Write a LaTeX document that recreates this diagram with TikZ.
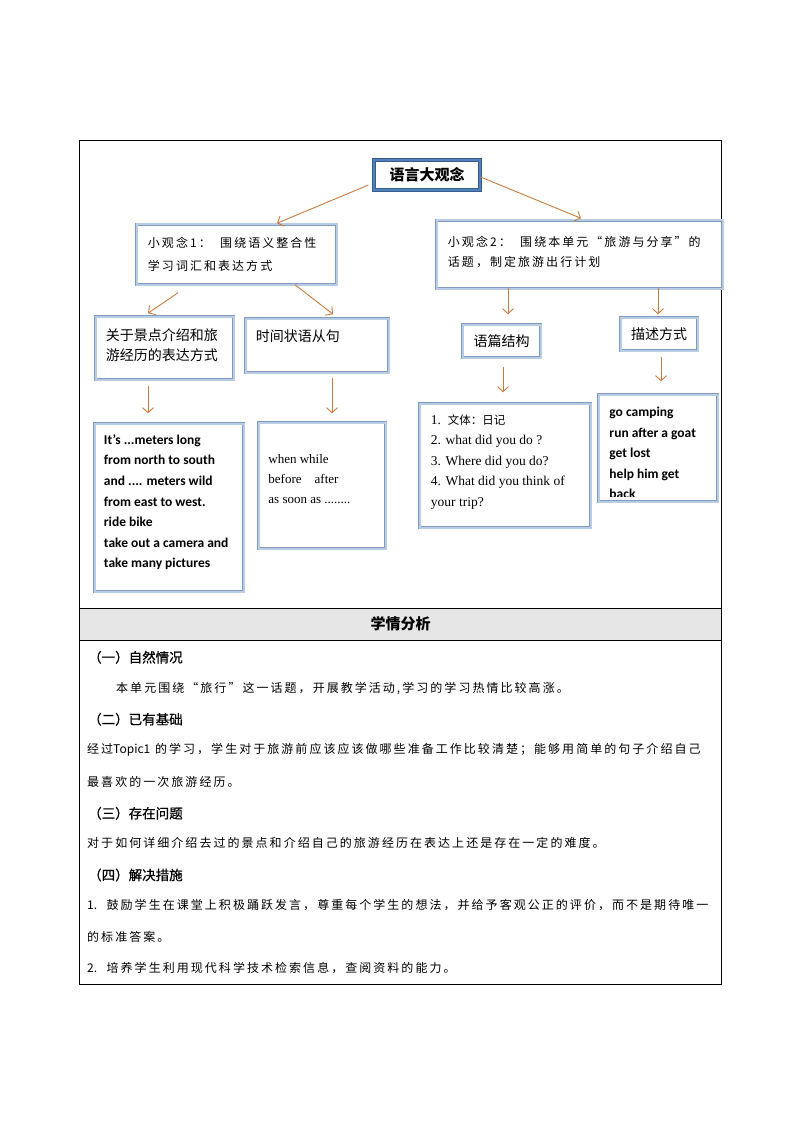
\documentclass[tikz,border=0pt]{standalone}
\usepackage{fontspec}
\usetikzlibrary{arrows.meta,positioning}
\newfontfamily\cjk{Noto Sans CJK SC}
\newfontfamily\cjkhead[FakeBold=0.8]{Noto Sans CJK SC}
\newfontfamily\cjkwide[LetterSpace=17]{Noto Sans CJK SC}
\newfontfamily\calfont{Carlito}
\newfontfamily\timesfont{Liberation Serif}
\definecolor{arrowbrown}{HTML}{C87A3F}
\definecolor{boxedge}{HTML}{7F9CC0}
\definecolor{boxband}{HTML}{B8CCE4}
\definecolor{rootedge}{HTML}{385D8A}
\definecolor{rootband}{HTML}{4F81BD}
\definecolor{rowgray}{HTML}{E6E6E6}
\tikzset{
idea/.style={draw=boxedge,line width=0.5pt,double=boxband,double distance=2pt,inner sep=0pt},
bigidea/.style={draw=rootedge,line width=0.7pt,double=rootband,double distance=2.2pt,inner sep=0pt},
arr/.style={draw=arrowbrown,line width=0.9pt,-{Straight Barb[length=5pt,width=11pt]}},
note/.style={inner sep=0pt,align=left},
cjknote/.style={note,font=\cjkwide\fontsize{12}{21}\selectfont},
heinote/.style={note,font=\cjk\fontsize{14}{20}\selectfont},
boldnote/.style={note,font=\calfont\bfseries\fontsize{13.5}{20.6}\selectfont},
romannote/.style={note,font=\timesfont\fontsize{13.5}{20.5}\selectfont},
heading/.style={inner sep=0pt,anchor=west,font=\cjkhead\fontsize{13.5}{16}\selectfont},
bodyline/.style={inner sep=0pt,anchor=west,font=\cjkwide\fontsize{12}{14}\selectfont},
}
\begin{document}
\begin{tikzpicture}[x=1pt,y=-1pt]
\useasboundingbox (0,0) rectangle (794,1123);
\fill[rowgray] (79.5,608) rectangle (721.5,640);
\draw[line width=1pt] (79.5,140.5) rectangle (721.5,984);
\draw[line width=1pt] (79.5,608) -- (721.5,608) (79.5,640) -- (721.5,640);

\node[bigidea,minimum width=106.4pt,minimum height=30.4pt,font=\cjk\bfseries\fontsize{15}{18}\selectfont] (big) at (427,175) {语言大观念};
\node[idea,minimum width=200pt,minimum height=60pt] (sub1) at (236.5,254.5) {};
\node[idea,minimum width=286pt,minimum height=68pt] (sub2) at (579.5,254.5) {};
\node[idea,minimum width=138pt,minimum height=63pt] (exp1) at (164.5,348) {};
\node[idea,minimum width=143pt,minimum height=54pt] (exp2) at (317,345.5) {};
\node[idea,minimum width=78pt,minimum height=33pt,font=\cjk\fontsize{14}{16}\selectfont] (exp3) at (501.5,341) {语篇结构};
\node[idea,minimum width=77pt,minimum height=33pt,font=\cjk\fontsize{14}{16}\selectfont] (exp4) at (659,334) {描述方式};
\node[idea,minimum width=149pt,minimum height=168pt] (ex1) at (169,507.5) {};
\node[idea,minimum width=127pt,minimum height=126pt] (ex2) at (322,485.5) {};
\node[idea,minimum width=171pt,minimum height=124pt] (ex3) at (505,465.5) {};
\node[idea,minimum width=119pt,minimum height=107pt] (ex4) at (658,448) {};

\node[cjknote,below right=13pt and 11.5pt of sub1.north west,font=\cjkwide\fontsize{12}{22.5}\selectfont] (sub1t) {小观念1：\ \ 围绕语义整合性\\学习词汇和表达方式};
\node[cjknote,below right=15.5pt and 11.5pt of sub2.north west,font=\cjkwide\fontsize{12}{20.5}\selectfont] (sub2t) {小观念2：\ \ 围绕本单元“旅游与分享”的\\话题，制定旅游出行计划};
\node[heinote,below right=12pt and 10.5pt of exp1.north west] (exp1t) {关于景点介绍和旅\\游经历的表达方式};
\node[heinote,below right=11pt and 10.5pt of exp2.north west] (exp2t) {时间状语从句};
\node[boldnote,below right=11pt and 9.5pt of ex1.north west] (ex1t) {It’s ...meters long\\from north to south\\and .... meters wild\\from east to west.\\ride bike\\take out a camera and\\take many pictures};
\node[romannote,below right=32.5pt and 10pt of ex2.north west,font=\timesfont\fontsize{13}{20}\selectfont] (ex2t) {when while\\before\quad after\\as soon as ........};
\node[romannote,below right=11pt and 11.5pt of ex3.north west] (ex3t) {1.\ \ {\cjk\fontsize{11.5}{14}\selectfont 文体：日记}\\2. what did you do ?\\3. Where did you do?\\4. What did you think of\\your trip?};
\begin{scope}
\clip ([shift={(2,2)}]ex4.north west) rectangle ([shift={(-2,-5)}]ex4.south east);
\node[boldnote,below right=12.5pt and 11pt of ex4.north west] (ex4t) {go camping\\run after a goat\\get lost\\help him get\\back};
\end{scope}

\draw[arr] ([shift={(-5,10)}]big.west) -- ([shift={(40.5,-1)}]sub1.north);
\draw[arr] ([shift={(0,2)}]big.east) -- ([shift={(1.5,-2)}]sub2.north);
\draw[arr] ([shift={(-58.5,8)}]sub1.south) -- ([shift={(-16.5,-3)}]exp1.north);
\draw[arr] ([shift={(58.5,0)}]sub1.south) -- ([shift={(16,-4)}]exp2.north);
\draw[arr] ([shift={(-71.5,-1)}]sub2.south) -- ([shift={(6.5,-10)}]exp3.north);
\draw[arr] ([shift={(78.5,-1)}]sub2.south) -- ([shift={(-1,-3)}]exp4.north);
\draw[arr] ([shift={(-16.5,6)}]exp1.south) -- ([shift={(-21,-10)}]ex1.north);
\draw[arr] ([shift={(15,5)}]exp2.south) -- ([shift={(10,-9)}]ex2.north);
\draw[arr] ([shift={(1.5,9)}]exp3.south) -- ([shift={(-2,-11)}]ex3.north);
\draw[arr] ([shift={(2,6)}]exp4.south) -- ([shift={(3,-13)}]ex4.north);

\node[font=\cjk\bfseries\fontsize{15}{18}\selectfont,inner sep=0pt] (study) at (400.5,624) {学情分析};
\node[heading] (h1) at (88,657.3) {（一）自然情况};
\node[bodyline] (b1) at (116,688.3) {本单元围绕“旅行”这一话题，开展教学活动,学习的学习热情比较高涨。};
\node[heading] (h2) at (88,719.3) {（二）已有基础};
\node[bodyline] (b2) at (87,750) {经过{\cjk Topic1} 的学习，学生对于旅游前应该应该做哪些准备工作比较清楚；能够用简单的句子介绍自己};
\node[bodyline] (b3) at (87,781.7) {最喜欢的一次旅游经历。};
\node[heading] (h3) at (88,813.3) {（三）存在问题};
\node[bodyline] (b4) at (87,843.3) {对于如何详细介绍去过的景点和介绍自己的旅游经历在表达上还是存在一定的难度。};
\node[heading] (h4) at (88,875) {（四）解决措施};
\node[bodyline] (b5) at (87,905) {{\cjk 1.}\ \ 鼓励学生在课堂上积极踊跃发言，尊重每个学生的想法，并给予客观公正的评价，而不是期待唯一};
\node[bodyline] (b6) at (87,936.7) {的标准答案。};
\node[bodyline] (b7) at (87,968.3) {{\cjk 2.}\ \ 培养学生利用现代科学技术检索信息，查阅资料的能力。};
\end{tikzpicture}
\end{document}
